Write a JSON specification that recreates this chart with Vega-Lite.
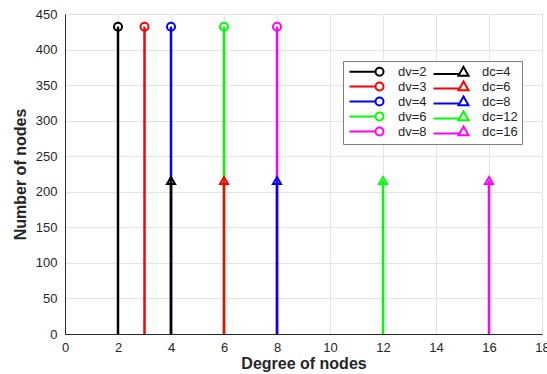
{
  "$schema": "https://vega.github.io/schema/vega-lite/v6.json",
  "autosize": "none",
  "width": 477,
  "height": 320,
  "padding": {"left": 65, "top": 14, "right": 5, "bottom": 40},
  "background": "white",
  "config": {
    "font": "Liberation Sans",
    "view": {"stroke": "#262626", "strokeWidth": 1},
    "axis": {
      "labelFont": "Liberation Sans",
      "labelFontSize": 13,
      "labelColor": "#262626",
      "titleFont": "Liberation Sans",
      "titleFontSize": 16,
      "titleFontWeight": "bold",
      "titleColor": "#262626",
      "domainColor": "#262626",
      "gridColor": "#e3e3e3",
      "gridWidth": 1,
      "ticks": false
    },
    "legend": {
      "orient": "none",
      "legendX": 278,
      "legendY": 47,
      "columns": 2,
      "fillColor": "white",
      "strokeColor": "#7f7f7f",
      "padding": 4,
      "labelFont": "Liberation Sans",
      "labelFontSize": 13,
      "labelColor": "#262626",
      "symbolSize": 100,
      "symbolStrokeWidth": 2,
      "symbolOffset": 26,
      "labelOffset": 12,
      "rowPadding": -3,
      "columnPadding": 2,
      "symbolType": "circle"
    }
  },
  "data": {
    "values": [
      {"series": "dv=2", "shp": "circle", "x": 2, "n": 432},
      {"series": "dv=3", "shp": "circle", "x": 3, "n": 432},
      {"series": "dv=4", "shp": "circle", "x": 4, "n": 432},
      {"series": "dv=6", "shp": "circle", "x": 6, "n": 432},
      {"series": "dv=8", "shp": "circle", "x": 8, "n": 432},
      {"series": "dc=4", "shp": "triangle-up", "x": 4, "n": 216},
      {"series": "dc=6", "shp": "triangle-up", "x": 6, "n": 216},
      {"series": "dc=8", "shp": "triangle-up", "x": 8, "n": 216},
      {"series": "dc=12", "shp": "triangle-up", "x": 12, "n": 216},
      {"series": "dc=16", "shp": "triangle-up", "x": 16, "n": 216}
    ]
  },
  "encoding": {
    "x": {
      "field": "x",
      "type": "quantitative",
      "scale": {"domain": [0, 18], "nice": false},
      "axis": {"values": [0, 2, 4, 6, 8, 10, 12, 14, 16, 18], "title": "Degree of nodes", "labelPadding": 7, "titlePadding": 1, "labelFlush": false}
    },
    "y": {
      "field": "n",
      "type": "quantitative",
      "scale": {"domain": [0, 450], "nice": false},
      "axis": {"values": [0, 50, 100, 150, 200, 250, 300, 350, 400, 450], "title": "Number of nodes", "labelPadding": 8, "titlePadding": 7}
    },
    "color": {
      "field": "series",
      "type": "nominal",
      "scale": {
        "domain": ["dv=2", "dv=3", "dv=4", "dv=6", "dv=8", "dc=4", "dc=6", "dc=8", "dc=12", "dc=16"],
        "range": ["#000000", "#ff0000", "#0000ff", "#00ff00", "#ff00ff", "#000000", "#ff0000", "#0000ff", "#00ff00", "#ff00ff"]
      },
      "legend": {
        "title": null,
        "encode": {
          "symbols": {
            "update": {
              "shape": {"signal": "indexof(datum.value, 'dv') === 0 ? 'M-6,0L-0.8,0M0.8,0A0.8,0.8,0,1,1,-0.8,0A0.8,0.8,0,1,1,0.8,0' : 'M-6,0.4L-0.9,0.4M0,-1.0L1.0,0.75L-1.0,0.75Z'"},
              "size": {"value": 100},
              "strokeWidth": {"value": 2},
              "fill": {"value": "transparent"}
            }
          }
        }
      }
    }
  },
  "layer": [
    {
      "mark": {"type": "rule", "strokeWidth": 2.5},
      "encoding": {"y2": {"datum": 0}}
    },
    {
      "mark": {"type": "point", "filled": false, "strokeWidth": 2, "size": 65, "opacity": 1},
      "encoding": {
        "shape": {"field": "shp", "type": "nominal", "scale": null}
      }
    }
  ]
}
